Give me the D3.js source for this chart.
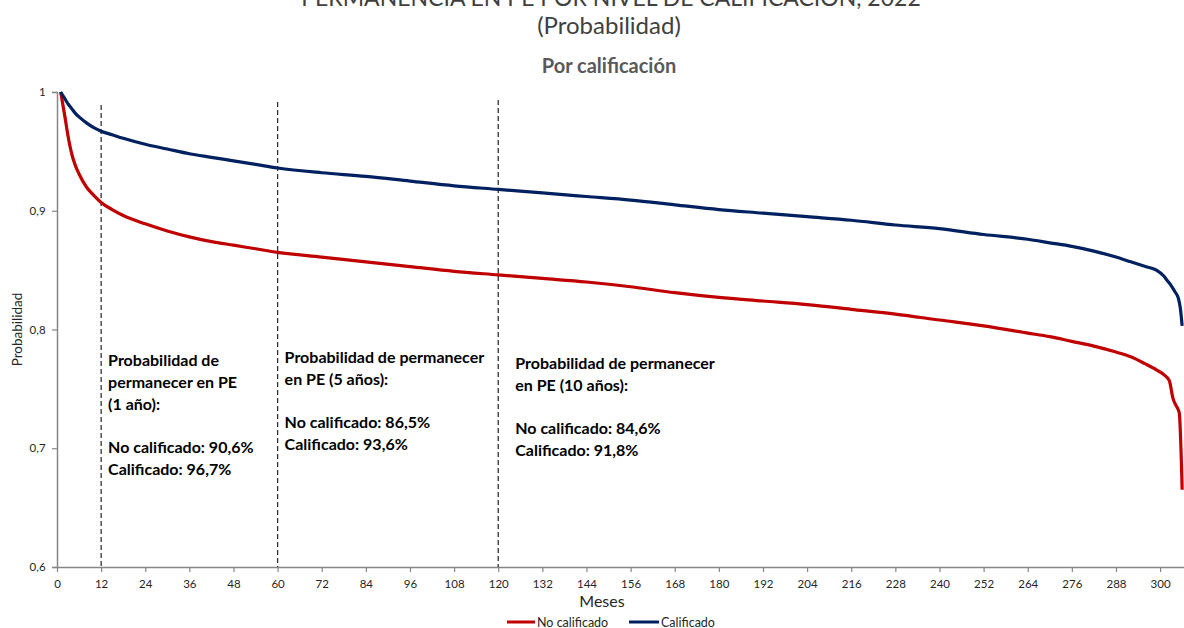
<!DOCTYPE html>
<html>
<head>
<meta charset="utf-8">
<script src="https://cdn.jsdelivr.net/npm/d3@7"></script>
<style>
  body { margin: 0; background: #fff; }
  svg { display: block; font-family: Lato, "Open Sans", sans-serif; }
</style>
</head>
<body>
<div id="chart"></div>
<script>
// --- datos ---
const mesesNoCal = [1,2,3,4,5,6,8,10,12,15,18,24,30,36,42,48,54,60,72,84,96,108,120,132,144,156,168,180,192,204,216,228,240,252,264,270,276,282,288,292,296,299,301,302.5,303.5,304.5,305.2,306];
const noCalificado = [1.000,0.982,0.963,0.948,0.938,0.931,0.920,0.913,0.907,0.901,0.896,0.889,0.883,0.878,0.874,0.871,0.868,0.865,0.861,0.857,0.853,0.849,0.846,0.843,0.840,0.836,0.831,0.827,0.824,0.821,0.817,0.813,0.808,0.803,0.797,0.794,0.790,0.786,0.781,0.777,0.771,0.766,0.762,0.757,0.742,0.735,0.730,0.665];

const mesesCal = [1,2,3,4,5,6,8,10,12,15,18,24,30,36,42,48,54,60,72,84,96,108,120,132,144,156,168,180,192,204,216,228,240,252,264,270,276,282,288,292,296,299,301,302,303,304,305,305.5,306];
const calificado = [1.000,0.995,0.990,0.986,0.982,0.979,0.974,0.970,0.967,0.964,0.961,0.956,0.952,0.948,0.945,0.942,0.939,0.936,0.932,0.929,0.925,0.921,0.918,0.915,0.912,0.909,0.905,0.901,0.898,0.895,0.892,0.888,0.885,0.880,0.876,0.873,0.870,0.866,0.861,0.857,0.853,0.850,0.845,0.841,0.837,0.832,0.826,0.818,0.803];

const xTicks = d3.range(0, 301, 12);
const yTicks = [0.6, 0.7, 0.8, 0.9, 1];
const yTickLabels = ["0,6", "0,7", "0,8", "0,9", "1"];
const cortes = [12, 60, 120];

const notas = [
  { mes: 12, lineas: ["Probabilidad de", "permanecer en PE", "(1 año):", "", "No calificado: 90,6%", "Calificado: 96,7%"] },
  { mes: 60, lineas: ["Probabilidad de permanecer", "en PE (5 años):", "", "No calificado: 86,5%", "Calificado: 93,6%"] },
  { mes: 120, lineas: ["Probabilidad de permanecer", "en PE (10 años):", "", "No calificado: 84,6%", "Calificado: 91,8%"] }
];

const series = [
  { nombre: "No calificado", meses: mesesNoCal, valores: noCalificado, color: "#C00000" },
  { nombre: "Calificado", meses: mesesCal, valores: calificado, color: "#002060" }
];

// --- dibujo ---
const width = 1184, height = 628;
const svg = d3.select("#chart").append("svg")
  .attr("width", width).attr("height", height);

const x = d3.scaleLinear().domain([0, 306.5]).range([57, 1184]);
const y = d3.scaleLinear().domain([0.6, 1]).range([567, 92]);

// títulos (la primera línea queda cortada arriba, como en el original)
svg.append("text")
  .attr("x", 611).attr("y", 6)
  .attr("text-anchor", "middle")
  .attr("fill", "#404040")
  .style("font-size", "23px")
  .text("PERMANENCIA EN PE POR NIVEL DE CALIFICACIÓN, 2022");

svg.append("text")
  .attr("x", 609).attr("y", 34)
  .attr("text-anchor", "middle")
  .attr("fill", "#404040")
  .style("font-size", "24px")
  .text("(Probabilidad)");

svg.append("text")
  .attr("x", 609).attr("y", 73)
  .attr("text-anchor", "middle")
  .attr("fill", "#595959")
  .style("font-size", "20px")
  .style("font-weight", "bold")
  .text("Por calificación");

// ejes
const yAxis = svg.append("g")
  .attr("transform", `translate(${x(0)},0)`)
  .call(d3.axisLeft(y).tickValues(yTicks).tickSize(5).tickFormat((d, i) => yTickLabels[i]));

const xAxis = svg.append("g")
  .attr("transform", `translate(0,${y(0.6)})`)
  .call(d3.axisBottom(x).tickValues(xTicks).tickSize(5).tickSizeOuter(0));

[yAxis, xAxis].forEach(g => {
  g.select(".domain").attr("stroke", "#868686").attr("stroke-width", 1.5);
  g.selectAll(".tick line").attr("stroke", "#868686").attr("stroke-width", 1.2);
  g.selectAll(".tick text").attr("fill", "#262626").style("font-size", "11.5px")
    .style("font-family", "Lato, 'Open Sans', sans-serif");
});
xAxis.selectAll(".tick text").attr("dy", "1.1em");
yAxis.selectAll(".tick text").attr("dx", "-0.3em");

svg.append("text")
  .attr("transform", `translate(22,${y(0.8)}) rotate(-90)`)
  .attr("text-anchor", "middle")
  .attr("fill", "#262626")
  .style("font-size", "13.5px")
  .text("Probabilidad");

svg.append("text")
  .attr("x", 602).attr("y", 607)
  .attr("text-anchor", "middle")
  .attr("fill", "#262626")
  .style("font-size", "16px")
  .text("Meses");

// líneas verticales punteadas
svg.selectAll(".corte")
  .data(cortes)
  .enter().append("line")
  .attr("x1", d => x(d)).attr("x2", d => x(d))
  .attr("y1", (d, i) => [105, 102, 100][i])
  .attr("y2", y(0.6))
  .attr("stroke", "#333")
  .attr("stroke-width", 1.3)
  .attr("stroke-dasharray", "5,3");

// curvas
const line = d3.line()
  .x(d => x(d[0]))
  .y(d => y(d[1]))
  .curve(d3.curveMonotoneX);

svg.selectAll(".serie")
  .data(series)
  .enter().append("path")
  .attr("fill", "none")
  .attr("stroke", d => d.color)
  .attr("stroke-width", 3.2)
  .attr("stroke-linejoin", "round")
  .attr("d", d => line(d.meses.map((m, i) => [m, d.valores[i]])));

// notas
const notaPos = [{ dx: 7, top: 366 }, { dx: 7, top: 363 }, { dx: 17, top: 369 }];
notas.forEach((n, k) => {
  const t = svg.append("text")
    .attr("fill", "#000")
    .style("font-size", "16px")
    .style("font-weight", "bold");
  n.lineas.forEach((l, i) => {
    t.append("tspan")
      .attr("x", x(n.mes) + notaPos[k].dx)
      .attr("y", notaPos[k].top + i * 21.8)
      .text(l);
  });
});

// leyenda
const leyenda = [{ x1: 507, x2: 535 }, { x1: 629, x2: 659 }];
series.forEach((s, i) => {
  svg.append("line")
    .attr("x1", leyenda[i].x1).attr("x2", leyenda[i].x2)
    .attr("y1", 622).attr("y2", 622)
    .attr("stroke", s.color).attr("stroke-width", 3);
  svg.append("text")
    .attr("x", leyenda[i].x2 + 2).attr("y", 626.5)
    .attr("fill", "#262626")
    .style("font-size", "12.5px")
    .text(s.nombre);
});
</script>
</body>
</html>
